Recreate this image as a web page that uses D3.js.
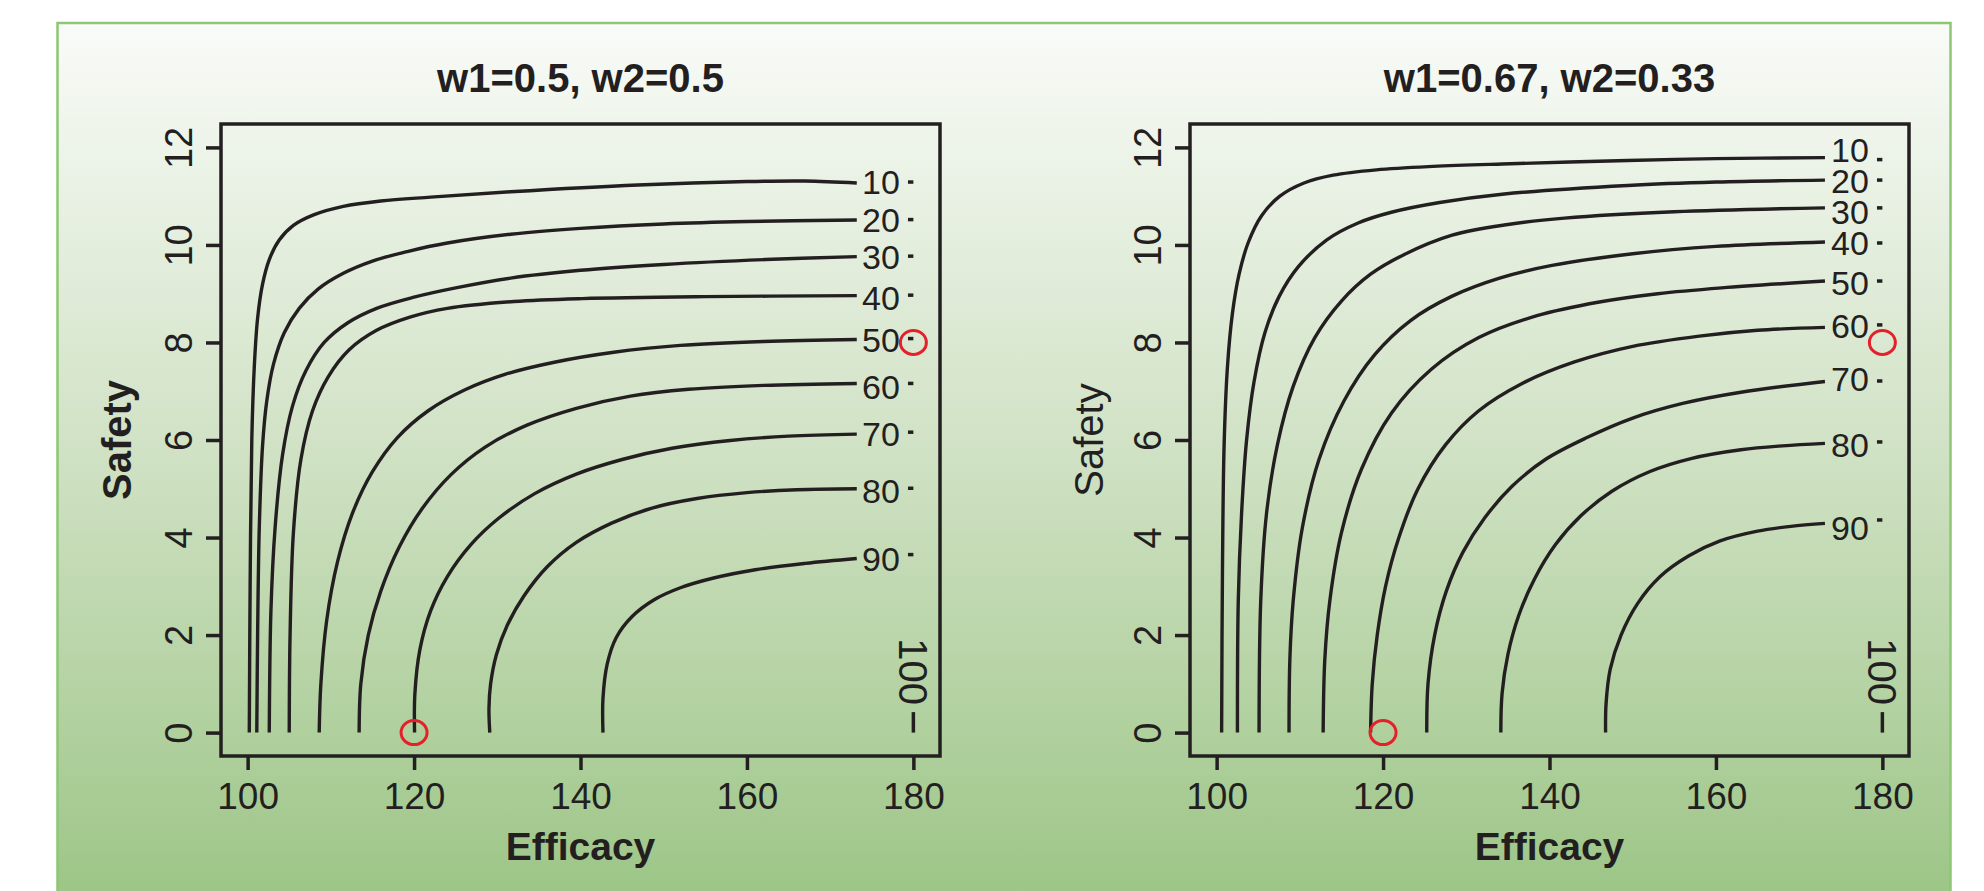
<!DOCTYPE html>
<html>
<head>
<meta charset="utf-8">
<script src="https://cdn.jsdelivr.net/npm/d3@7/dist/d3.min.js"></script>
<style>
    body { margin: 0; background: #ffffff; }
    svg text { font-family: "Liberation Sans", Arial, Helvetica, sans-serif; fill: #231f20; }
</style>
</head>
<body>
<div id="chart"></div>
<script>
//Datos
const titles = ['w1=0.5, w2=0.5', 'w1=0.67, w2=0.33'];
const levels = [10, 20, 30, 40, 50, 60, 70, 80, 90];
const xTicks = [100, 120, 140, 160, 180];
const yTicks = [0, 2, 4, 6, 8, 10, 12];

//Contornos panel izquierdo (eficacia, seguridad)
const left10 = [[100.2,0],[100.3,3],[100.5,6],[100.8,7.5],[101.2,8.5],[101.8,9.2],[102.6,9.7],[103.8,10.1],[105.5,10.4],[108,10.62],[111.5,10.79],[116,10.9],[122,10.98],[131.6,11.09],[146.9,11.23],[160,11.3],[167,11.31],[173.2,11.27]];
const left20 = [[101.1,0],[101.2,2],[101.4,4.2],[101.8,5.9],[102.3,6.8],[103.1,7.55],[104.4,8.2],[106.2,8.7],[108.5,9.1],[111.5,9.42],[115,9.67],[119.3,9.87],[124,10.04],[131.6,10.22],[140,10.34],[150,10.43],[160,10.48],[173.2,10.51]];
const left30 = [[102.6,0],[102.8,2.5],[103.3,4.2],[104.2,5.7],[105.4,6.7],[107,7.42],[109.2,8.0],[112,8.4],[115.5,8.7],[120,8.93],[125,9.12],[131.6,9.32],[140,9.48],[150,9.6],[162.2,9.7],[173.2,9.76]];
const left40 = [[105.0,0],[105.1,2],[105.5,4.1],[106.4,5.6],[107.8,6.6],[109.7,7.3],[112.2,7.85],[115.5,8.25],[119.5,8.52],[124,8.7],[132,8.84],[140.2,8.9],[155,8.94],[173.2,8.96]];
const left50 = [[108.6,0],[108.8,1],[109.5,2.3],[110.8,3.5],[112.6,4.5],[115,5.35],[118,6.05],[121.7,6.6],[126,7.02],[131,7.35],[137,7.6],[144,7.8],[152,7.94],[162,8.02],[173.2,8.06]];
const left60 = [[113.4,0],[113.6,1],[114.5,2],[116,2.9],[118.2,3.8],[121,4.6],[124.5,5.3],[128.5,5.85],[133.5,6.3],[139.5,6.65],[146,6.9],[153,7.04],[162,7.12],[173.2,7.16]];
const left70 = [[120.06,0],[120.1,0.8],[120.7,1.7],[122,2.5],[124,3.2],[126.8,3.85],[130.2,4.4],[134.5,4.9],[139.5,5.3],[145,5.6],[151,5.83],[158,5.99],[165,6.08],[173.2,6.12]];
const left80 = [[129.1,0],[129.0,0.5],[129.2,1],[129.9,1.6],[131.2,2.2],[133.2,2.8],[136,3.4],[139.5,3.9],[143.8,4.3],[148.5,4.6],[154,4.8],[160,4.92],[166,4.98],[173.2,5.0]];
const left90 = [[142.7,0],[142.7,0.7],[143.2,1.4],[144.3,1.95],[146.2,2.38],[148.8,2.72],[152,2.97],[156,3.17],[161,3.34],[167,3.47],[173.2,3.57]];
const leftEdge = [11.29, 10.52, 9.77, 8.97, 8.08, 7.16, 6.16, 5.01, 3.65];
const leftLabelY = [11.3, 10.52, 9.75, 8.92, 8.05, 7.1, 6.12, 4.96, 3.57];

//Contornos panel derecho
const right10 = [[100.6,0],[100.7,3.3],[100.9,5.9],[101.3,7.5],[101.9,8.6],[102.7,9.4],[103.8,10.05],[105.4,10.6],[107.6,11.0],[110.5,11.27],[114,11.43],[119.2,11.54],[126,11.61],[134.3,11.66],[149.4,11.73],[160,11.77],[173.1,11.79]];
const right20 = [[102.5,0],[102.6,2.7],[103.0,4.5],[103.6,6.0],[104.5,7.2],[105.8,8.2],[107.5,8.94],[109.8,9.55],[113.2,10.1],[117,10.45],[121,10.67],[126.8,10.87],[134.3,11.04],[149.4,11.22],[160,11.29],[173.1,11.33]];
const right30 = [[105.1,0],[105.3,2.7],[106.0,4.5],[107.3,5.9],[109.2,7.1],[111.8,8.1],[115.0,8.85],[118.5,9.4],[122.5,9.8],[128.3,10.2],[135,10.42],[141.8,10.55],[155,10.68],[173.1,10.76]];
const right40 = [[108.7,0],[108.8,1.5],[109.2,2.7],[110.3,4.2],[112.3,5.6],[115.3,6.8],[119,7.75],[123.3,8.45],[128.3,8.95],[134,9.32],[140.3,9.58],[150,9.82],[160,9.97],[173.1,10.06]];
const right50 = [[112.8,0],[113.0,1.5],[113.6,2.7],[115.0,4.1],[117.4,5.4],[121,6.55],[125.8,7.45],[131.5,8.1],[138.5,8.55],[146,8.83],[153,9.0],[160.7,9.12],[173.1,9.26]];
const right60 = [[118.5,0],[118.7,1],[119.3,2],[120.3,3],[121.9,4],[124.2,5],[127.5,5.9],[131.5,6.6],[136.6,7.15],[143,7.6],[150,7.92],[158,8.13],[165,8.25],[173.1,8.31]];
const right70 = [[125.25,0],[125.4,1],[126.2,2],[127.6,2.9],[129.6,3.7],[132.2,4.4],[135.5,5.05],[139.5,5.6],[144.5,6.05],[150,6.45],[156,6.75],[163,6.98],[173.1,7.2]];
const right80 = [[134.15,0],[134.3,0.8],[135.0,1.6],[136.3,2.4],[138.2,3.15],[140.7,3.85],[143.8,4.45],[147.5,4.95],[152,5.35],[157,5.62],[163,5.8],[168,5.88],[173.1,5.93]];
const right90 = [[146.74,0],[146.8,0.6],[147.3,1.3],[148.6,2.0],[150.6,2.65],[153.3,3.2],[156.7,3.62],[160.5,3.93],[165,4.13],[169,4.23],[173.1,4.29]];
const rightEdge = [11.75, 11.33, 10.76, 10.04, 9.26, 8.36, 7.21, 5.96, 4.36];
const rightLabelY = [11.95, 11.32, 10.69, 10.05, 9.23, 8.34, 7.25, 5.91, 4.2];

//Contorno 100 (trozo en x=180) y puntos marcados
const contour100 = [[180,0],[180,0.42]];
const label100Y = 1.25;
const markedPoints = [[120,0],[180,8]];

//Colores fijos
const COLOR_INK = '#231f20',
COLOR_RED = '#e4202a',
COLOR_BORDER = '#8cc873';

const panels = [
    { title: titles[0], left: 221, contours: [left10,left20,left30,left40,left50,left60,left70,left80,left90], edge: leftEdge, labelY: leftLabelY, boldY: true, yLabelOff: 90 },
    { title: titles[1], left: 1190, contours: [right10,right20,right30,right40,right50,right60,right70,right80,right90], edge: rightEdge, labelY: rightLabelY, boldY: false, yLabelOff: 87 }
];

let svg = d3.select('#chart')
    .append('svg')
        .attr('width', 1984)
        .attr('height', 891);

//Fondo degradado con borde verde
let defs = svg.append('defs');
let grad = defs.append('linearGradient')
    .attr('id', 'bg')
    .attr('x1', 0).attr('y1', 0).attr('x2', 0).attr('y2', 1);
grad.append('stop').attr('offset', '0%').attr('stop-color', '#f9fbf8');
grad.append('stop').attr('offset', '50%').attr('stop-color', '#cfe1c3');
grad.append('stop').attr('offset', '100%').attr('stop-color', '#9cc586');

svg.append('rect')
    .attr('x', 57.5)
    .attr('y', 23)
    .attr('width', 1893)
    .attr('height', 880)
    .attr('fill', 'url(#bg)')
    .attr('stroke', COLOR_BORDER)
    .attr('stroke-width', 2.5);

const plotTop = 124, width = 719, height = 632;

let x = d3.scaleLinear().domain([96.8, 183.2]).range([0, width]);
let y = d3.scaleLinear().domain([-0.48, 12.48]).range([height, 0]);

let line = d3.line()
    .x(function(d) { return x(d[0]); })
    .y(function(d) { return y(d[1]); })
    .curve(d3.curveCatmullRom.alpha(0.5));

panels.forEach(function(p) {
    let g = svg.append('g')
        .attr('transform', 'translate(' + p.left + ',' + plotTop + ')');

    //Título
    g.append('text')
        .attr('x', width / 2)
        .attr('y', -32)
        .attr('text-anchor', 'middle')
        .style('font-size', '40px')
        .style('font-weight', 'bold')
        .text(p.title);

    //Ejes
    let xAxis = g.append('g')
        .attr('transform', 'translate(0,' + height + ')')
        .call(d3.axisBottom(x).tickValues(xTicks).tickSize(14).tickFormat(d3.format('d')));
    xAxis.select('.domain').remove();
    xAxis.selectAll('.tick line').attr('stroke', COLOR_INK).attr('stroke-width', 3.5);
    xAxis.selectAll('.tick text')
        .attr('y', 53).attr('dy', 0)
        .style('font-size', '37px')
        .style('fill', COLOR_INK);

    let yAxis = g.append('g')
        .call(d3.axisLeft(y).tickValues(yTicks).tickSize(15).tickFormat(d3.format('d')));
    yAxis.select('.domain').remove();
    yAxis.selectAll('.tick line').attr('stroke', COLOR_INK).attr('stroke-width', 3.5);
    yAxis.selectAll('.tick text')
        .attr('transform', 'rotate(-90)')
        .attr('x', 0).attr('y', -29).attr('dy', 0)
        .attr('text-anchor', 'middle')
        .style('font-size', '38px')
        .style('fill', COLOR_INK);

    //Títulos de ejes
    g.append('text')
        .attr('x', width / 2)
        .attr('y', height + 104)
        .attr('text-anchor', 'middle')
        .style('font-size', '39px')
        .style('font-weight', 'bold')
        .text('Efficacy');

    g.append('text')
        .attr('transform', 'translate(' + (-p.yLabelOff) + ',' + (height / 2) + ') rotate(-90)')
        .attr('text-anchor', 'middle')
        .style('font-size', '40px')
        .style('font-weight', p.boldY ? 'bold' : 'normal')
        .text('Safety');

    //Líneas de contorno
    g.selectAll('.contour')
        .data(p.contours)
        .enter()
        .append('path')
        .attr('class', 'contour')
        .attr('fill', 'none')
        .attr('stroke', COLOR_INK)
        .attr('stroke-width', 3.4)
        .attr('d', line);

    //Trozo final de cada contorno en x=180
    g.selectAll('.tail')
        .data(p.edge)
        .enter()
        .append('line')
        .attr('stroke', COLOR_INK)
        .attr('stroke-width', 3.5)
        .attr('x1', x(179.35))
        .attr('x2', x(180))
        .attr('y1', function(d) { return y(d); })
        .attr('y2', function(d) { return y(d); });

    //Etiquetas de nivel
    g.selectAll('.lab')
        .data(levels)
        .enter()
        .append('text')
        .attr('x', x(176.1))
        .attr('y', function(d, i) { return y(p.labelY[i]); })
        .attr('dy', '0.36em')
        .attr('text-anchor', 'middle')
        .style('font-size', '34px')
        .text(function(d) { return d; });

    //Nivel 100
    g.append('path')
        .datum(contour100)
        .attr('fill', 'none')
        .attr('stroke', COLOR_INK)
        .attr('stroke-width', 3.5)
        .attr('d', d3.line().x(function(d) { return x(d[0]); }).y(function(d) { return y(d[1]); }));

    g.append('text')
        .attr('transform', 'translate(' + x(180) + ',' + y(label100Y) + ') rotate(90)')
        .attr('dy', '0.36em')
        .attr('text-anchor', 'middle')
        .style('font-size', '40px')
        .text('100');

    //Caja del gráfico
    g.append('rect')
        .attr('x', 0).attr('y', 0)
        .attr('width', width).attr('height', height)
        .attr('fill', 'none')
        .attr('stroke', COLOR_INK)
        .attr('stroke-width', 3.5);

    //Puntos marcados en rojo
    g.selectAll('.mark')
        .data(markedPoints)
        .enter()
        .append('ellipse')
        .attr('cx', function(d) { return x(d[0]); })
        .attr('cy', function(d) { return y(d[1]); })
        .attr('rx', 13)
        .attr('ry', 12)
        .attr('fill', 'none')
        .attr('stroke', COLOR_RED)
        .attr('stroke-width', 3);
});
</script>
</body>
</html>
